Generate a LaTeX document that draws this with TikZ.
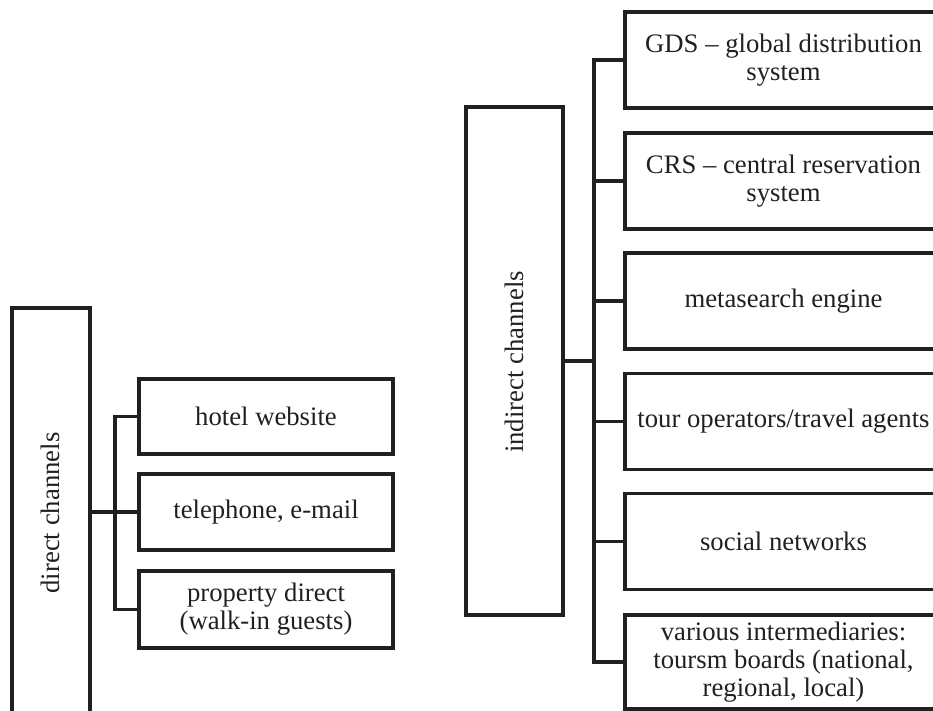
\documentclass[tikz,border=0pt]{standalone}
\usepackage{fontspec}
\setmainfont{Liberation Serif}
\definecolor{ink}{RGB}{35,31,32}
\begin{document}
\begin{tikzpicture}[x=1pt,y=-1pt,
  box/.style={draw=ink, line width=3.3pt, fill=none, inner sep=2pt, align=center,
    text=ink, font=\fontsize{26.7}{28}\selectfont},
  small/.style={box, minimum width=254pt},
  wide/.style={box, minimum width=317pt, minimum height=96pt},
  vlabel/.style={text=ink, font=\fontsize{26.7}{28}\selectfont, rotate=90},
  link/.style={draw=ink, line width=3.3pt}]
\useasboundingbox (0,0) rectangle (933,711);
\clip (0,0) rectangle (933,711);
% direct channels
\node[box, minimum width=78pt, minimum height=408pt] (dir) at (51,512) {};
\node[vlabel] (dirt) at (50,513) {direct channels};
\node[small, minimum height=75pt] (hw) at (266,416.5) {hotel website};
\node[small, minimum height=76pt] (tel) at (266,512) {telephone, e-mail};
\node[small, minimum height=77pt] (prop) at (266,609.5) {property direct\\(walk-in guests)};
\coordinate (busD) at (115,0);
\draw[link] (dir.east) -- (tel.west);
\draw[link] (hw.west) -- (hw.west -| busD) |- (prop.west);
% indirect channels
\node[box, minimum width=97pt, minimum height=508pt] (ind) at (514.5,361) {};
\node[vlabel] (indt) at (514,362) {indirect channels};
\node[wide] (gds) at (783.5,60) {GDS -- global distribution\\system};
\node[wide] (crs) at (783.5,181) {CRS -- central reservation\\system};
\node[wide] (meta) at (783.5,301) {metasearch engine};
\node[wide] (tour) at (783.5,421.5) {tour operators/travel agents};
\node[wide] (soc) at (783.5,541.5) {social networks};
\node[wide, minimum height=94pt] (var) at (783.5,662) {various intermediaries:\\toursm boards (national,\\regional, local)};
\coordinate (busI) at (594,0);
\draw[link] (ind.east) -- (ind.east -| busI);
\draw[link] (gds.west) -- (gds.west -| busI) |- (var.west);
\draw[link] (crs.west) -- (crs.west -| busI);
\draw[link] (meta.west) -- (meta.west -| busI);
\draw[link] (tour.west) -- (tour.west -| busI);
\draw[link] (soc.west) -- (soc.west -| busI);
\end{tikzpicture}
\end{document}
